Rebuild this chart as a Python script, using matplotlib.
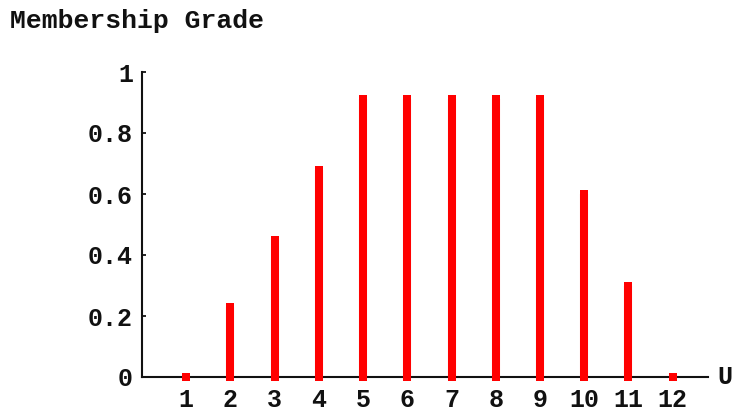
import matplotlib
matplotlib.use("Agg")
import matplotlib.pyplot as plt

# data
universe = [1, 2, 3, 4, 5, 6, 7, 8, 9, 10, 11, 12]
grades = [0.0, 0.23, 0.45, 0.68, 0.91, 0.91, 0.91, 0.91, 0.91, 0.6, 0.3, 0.0]
y_ticks = [0, 0.2, 0.4, 0.6, 0.8, 1]
y_tick_labels = ["0", "0.2", "0.4", "0.6", "0.8", "1"]

FONT = "Liberation Mono"
FS = 18

fig = plt.figure(figsize=(7.36, 4.12), dpi=100)
ax = fig.add_axes([142 / 736, 35 / 412, 566 / 736, 305 / 412])

# thick stems; square ends so that zero grades still show a dot
ax.vlines(universe, 0, grades, colors="#ff0000", linewidth=5.8,
          clip_on=False, zorder=3)
ax.plot(universe, grades, "s", color="#ff0000", markersize=5.8,
        markeredgewidth=0, clip_on=False, zorder=3)
ax.plot(universe, [0] * len(universe), "s", color="#ff0000", markersize=5.8,
        markeredgewidth=0, clip_on=False, zorder=3)

ax.set_xlim(0, 12.8)
ax.set_ylim(0, 1)

for side in ("top", "right"):
    ax.spines[side].set_visible(False)
for side in ("left", "bottom"):
    ax.spines[side].set_linewidth(1.5)
    ax.spines[side].set_color("#111111")

ax.set_xticks(universe)
ax.set_xticklabels([str(u) for u in universe], fontfamily=FONT, fontsize=FS,
                   fontweight="bold", color="#111111")
ax.set_yticks(y_ticks)
ax.set_yticklabels(y_tick_labels, fontfamily=FONT, fontsize=FS,
                   fontweight="bold", color="#111111")

ax.tick_params(axis="x", length=0, pad=8)
ax.tick_params(axis="y", direction="in", length=3, width=1.2, pad=6.5)

fig.text(10 / 736, 1 - 21 / 412, "Membership Grade", fontfamily=FONT,
         fontsize=19, fontweight="bold", color="#111111",
         ha="left", va="center")
fig.text(717 / 736, 1 - 377 / 412, "U", fontfamily=FONT, fontsize=FS,
         fontweight="bold", color="#111111", ha="left", va="center")

fig.savefig("out.png", dpi=100)
plt.close(fig)
